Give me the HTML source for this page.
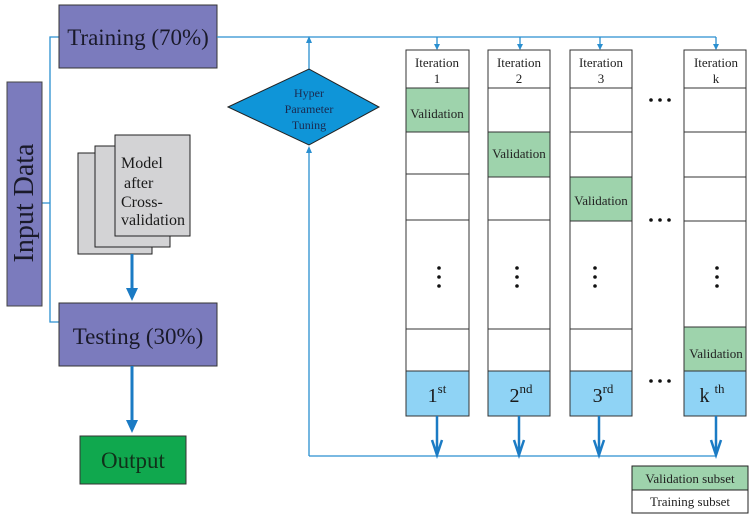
<!DOCTYPE html>
<html><head><meta charset="utf-8"><style>
html,body{margin:0;padding:0;background:#fff;width:753px;height:519px;overflow:hidden}
svg{display:block;font-family:"Liberation Serif",serif}
</style></head><body>
<svg width="753" height="519" viewBox="0 0 753 519" xmlns="http://www.w3.org/2000/svg">
<!-- left connector -->
<path d="M59,37 H50 V322 H59 M42,203 H50" fill="none" stroke="#2a8fd0" stroke-width="1.3"/>
<!-- Training -->
<rect x="59" y="5" width="158" height="63" fill="#7b7bbd" stroke="#333" stroke-width="1"/>
<text x="138" y="45" font-size="23" text-anchor="middle" fill="#1a1a2a">Training (70%)</text>
<!-- Input data -->
<rect x="7" y="82" width="35" height="224" fill="#7b7bbd" stroke="#444" stroke-width="1"/>
<text transform="translate(33,203) rotate(-90)" font-size="28" text-anchor="middle" fill="#1a1a2a">Input Data</text>
<!-- model stack -->
<rect x="78" y="153" width="74" height="101" fill="#d3d3d5" stroke="#222"/>
<rect x="95" y="146" width="75" height="101" fill="#d3d3d5" stroke="#222"/>
<rect x="115" y="135" width="75" height="101" fill="#d3d3d5" stroke="#222"/>
<g font-size="16" fill="#1a1a1a">
<text x="121" y="168">Model</text>
<text x="124" y="188">after</text>
<text x="121" y="207">Cross-</text>
<text x="121" y="225">validation</text>
</g>
<path d="M132,254 V290" stroke="#1b7bc4" stroke-width="3"/>
<polygon points="126,288 138,288 132,301" fill="#1b7bc4"/>
<!-- Testing -->
<rect x="59" y="303" width="158" height="63" fill="#7b7bbd" stroke="#333"/>
<text x="138" y="344" font-size="23" text-anchor="middle" fill="#1a1a2a">Testing (30%)</text>
<path d="M132,366 V422" stroke="#1b7bc4" stroke-width="3"/>
<polygon points="126,420 138,420 132,433" fill="#1b7bc4"/>
<rect x="80" y="436" width="106" height="48" fill="#10a84e" stroke="#333"/>
<text x="133" y="468" font-size="23" text-anchor="middle" fill="#10301a">Output</text>
<!-- top line -->
<path d="M217,37 H716" stroke="#2a8fd0" stroke-width="1.3" fill="none"/>
<g stroke="#2a8fd0" stroke-width="1.3" fill="none">
<path d="M437,37 V49"/><path d="M520,37 V49"/><path d="M600,37 V49"/><path d="M716,37 V49"/>
<path d="M309,69 V40"/>
<path d="M309,456 V148"/>
<path d="M309,456 H716"/>
</g>
<g fill="#2a8fd0">
<polygon points="434,44 440,44 437,50"/>
<polygon points="517,44 523,44 520,50"/>
<polygon points="597,44 603,44 600,50"/>
<polygon points="713,44 719,44 716,50"/>
<polygon points="306,43 312,43 309,36"/>
<polygon points="306,153 312,153 309,146"/>
</g>
<!-- diamond -->
<polygon points="228,107 309,69 379,107 309,145" fill="#0f95d8" stroke="#222" stroke-width="1"/>
<g font-size="12" fill="#1a2a50" text-anchor="middle">
<text x="309" y="97">Hyper</text>
<text x="309" y="113">Parameter</text>
<text x="309" y="129">Tuning</text>
</g>
<!-- columns -->
<g stroke="#333" stroke-width="1">
<rect x="406" y="50" width="63" height="366" fill="#fff"/>
<rect x="406" y="88" width="63" height="44" fill="#9ed3ac"/>
<path d="M406,174 H469 M406,220 H469 M406,329 H469"/>
<rect x="406" y="371" width="63" height="45" fill="#8fd3f5"/>
<rect x="488" y="50" width="62" height="366" fill="#fff"/>
<path d="M488,88 H550 M488,220 H550 M488,329 H550"/>
<rect x="488" y="132" width="62" height="45" fill="#9ed3ac"/>
<rect x="488" y="371" width="62" height="45" fill="#8fd3f5"/>
<rect x="570" y="50" width="62" height="366" fill="#fff"/>
<path d="M570,88 H632 M570,132 H632 M570,329 H632"/>
<rect x="570" y="177" width="62" height="44" fill="#9ed3ac"/>
<rect x="570" y="371" width="62" height="45" fill="#8fd3f5"/>
<rect x="684" y="50" width="62" height="366" fill="#fff"/>
<path d="M684,88 H746 M684,132 H746 M684,177 H746 M684,221 H746"/>
<rect x="684" y="327" width="62" height="44" fill="#9ed3ac"/>
<rect x="684" y="371" width="62" height="45" fill="#8fd3f5"/>
</g>
<g font-size="13" fill="#222" text-anchor="middle">
<text x="437" y="67">Iteration</text><text x="437" y="83">1</text>
<text x="519" y="67">Iteration</text><text x="519" y="83">2</text>
<text x="601" y="67">Iteration</text><text x="601" y="83">3</text>
<text x="716" y="67">Iteration</text><text x="716" y="83">k</text>
<text x="437" y="118">Validation</text>
<text x="519" y="158">Validation</text>
<text x="601" y="205">Validation</text>
<text x="716" y="358">Validation</text>
</g>
<g font-size="20" fill="#1a1a1a" text-anchor="middle">
<text x="437" y="402">1<tspan font-size="13" dy="-9">st</tspan></text>
<text x="521" y="402">2<tspan font-size="13" dy="-9">nd</tspan></text>
<text x="603" y="402">3<tspan font-size="13" dy="-9">rd</tspan></text>
<text x="712" y="402">k <tspan font-size="13" dy="-9">th</tspan></text>
</g>
<g fill="#111">
<circle cx="439" cy="268" r="1.8"/><circle cx="439" cy="277" r="1.8"/><circle cx="439" cy="286" r="1.8"/>
<circle cx="517" cy="268" r="1.8"/><circle cx="517" cy="277" r="1.8"/><circle cx="517" cy="286" r="1.8"/>
<circle cx="595" cy="268" r="1.8"/><circle cx="595" cy="277" r="1.8"/><circle cx="595" cy="286" r="1.8"/>
<circle cx="717" cy="268" r="1.8"/><circle cx="717" cy="277" r="1.8"/><circle cx="717" cy="286" r="1.8"/>
<circle cx="651" cy="100" r="1.8"/><circle cx="660" cy="100" r="1.8"/><circle cx="669" cy="100" r="1.8"/>
<circle cx="651" cy="220" r="1.8"/><circle cx="660" cy="220" r="1.8"/><circle cx="669" cy="220" r="1.8"/>
<circle cx="651" cy="381" r="1.8"/><circle cx="660" cy="381" r="1.8"/><circle cx="669" cy="381" r="1.8"/>
</g>
<g stroke="#1b7bc4" stroke-width="2.5" fill="none">
<path d="M437,416 V455 M432,440 L437,455 L442,440"/>
<path d="M519,416 V455 M514,440 L519,455 L524,440"/>
<path d="M599,416 V455 M594,440 L599,455 L604,440"/>
<path d="M716,416 V455 M711,440 L716,455 L721,440"/>
</g>
<rect x="632" y="466" width="116" height="24" fill="#9ed3ac" stroke="#222"/>
<rect x="632" y="490" width="116" height="23" fill="#fff" stroke="#222"/>
<g font-size="13" fill="#222" text-anchor="middle">
<text x="690" y="483">Validation subset</text>
<text x="690" y="506">Training subset</text>
</g>
</svg>
</body></html>
